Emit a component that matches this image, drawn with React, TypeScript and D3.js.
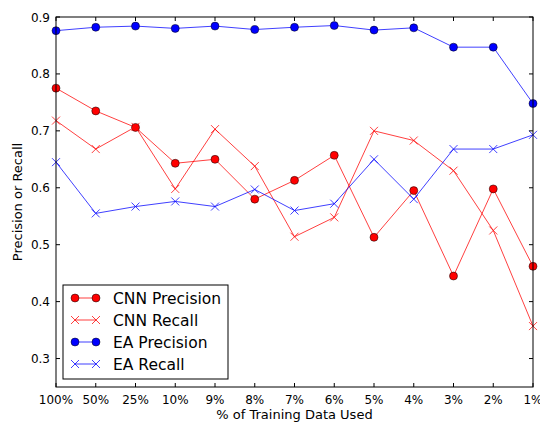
import React, { useEffect, useRef } from "react";
import * as d3 from "d3";

const categories = ["100%", "50%", "25%", "10%", "9%", "8%", "7%", "6%", "5%", "4%", "3%", "2%", "1%"];
const cnnPrecision = [0.775, 0.735, 0.706, 0.643, 0.65, 0.58, 0.613, 0.657, 0.513, 0.595, 0.445, 0.598, 0.462];
const cnnRecall = [0.718, 0.668, 0.707, 0.598, 0.703, 0.638, 0.514, 0.548, 0.7, 0.683, 0.63, 0.525, 0.357];
const eaPrecision = [0.876, 0.882, 0.884, 0.88, 0.884, 0.878, 0.882, 0.885, 0.877, 0.881, 0.847, 0.847, 0.748];
const eaRecall = [0.645, 0.555, 0.567, 0.576, 0.567, 0.597, 0.56, 0.572, 0.65, 0.58, 0.668, 0.668, 0.693];
const yTicks = [0.3, 0.4, 0.5, 0.6, 0.7, 0.8, 0.9];

const series = [
  { name: "CNN Precision", values: cnnPrecision, color: "#ff0000", marker: "circle" },
  { name: "CNN Recall", values: cnnRecall, color: "#ff0000", marker: "x" },
  { name: "EA Precision", values: eaPrecision, color: "#0000ff", marker: "circle" },
  { name: "EA Recall", values: eaRecall, color: "#0000ff", marker: "x" },
];

const App = () => {
  const ref = useRef<SVGSVGElement>(null);

  useEffect(() => {
    const width = 540, height = 423;
    const m = { left: 56, right: 7, top: 17, bottom: 36 };
    const svg = d3.select(ref.current);
    svg.selectAll("*").remove();
    const font = "DejaVu Sans, sans-serif";

    const x = d3.scalePoint().domain(categories).range([m.left, width - m.right]);
    const y = d3.scaleLinear().domain([0.25, 0.9]).range([height - m.bottom, m.top]);

    svg.append("rect").attr("width", width).attr("height", height).attr("fill", "white");

    const line = d3.line<number>()
      .x((_, i) => x(categories[i])!)
      .y(d => y(d));

    const plot = svg.append("g");

    const drawMarker = (g: any, cx: number, cy: number, s: any, r = 4) => {
      if (s.marker === "circle") {
        g.append("circle").attr("cx", cx).attr("cy", cy).attr("r", r)
          .attr("fill", s.color).attr("stroke", "#000").attr("stroke-width", 0.5);
      } else {
        const k = r;
        g.append("path")
          .attr("d", `M${cx - k},${cy - k}L${cx + k},${cy + k}M${cx - k},${cy + k}L${cx + k},${cy - k}`)
          .attr("stroke", s.color).attr("stroke-width", 1).attr("opacity", 0.75);
      }
    };

    series.forEach(s => {
      const g = plot.append("g");
      g.append("path").attr("d", line(s.values)).attr("fill", "none")
        .attr("stroke", s.color).attr("stroke-width", 1).attr("opacity", 0.75);
      s.values.forEach((v, i) => drawMarker(g, x(categories[i])!, y(v), s));
    });

    // Frame and ticks
    const x0 = m.left, x1 = width - m.right, y0 = m.top, y1 = height - m.bottom;
    const axes = svg.append("g");
    axes.append("rect").attr("x", x0).attr("y", y0).attr("width", x1 - x0).attr("height", y1 - y0)
      .attr("fill", "none").attr("stroke", "#000").attr("stroke-width", 1);

    categories.forEach(c => {
      const px = x(c)!;
      axes.append("line").attr("x1", px).attr("x2", px).attr("y1", y1).attr("y2", y1 - 4).attr("stroke", "#000");
      axes.append("line").attr("x1", px).attr("x2", px).attr("y1", y0).attr("y2", y0 + 4).attr("stroke", "#000");
      axes.append("text").attr("x", px).attr("y", y1 + 17).attr("text-anchor", "middle")
        .attr("font-family", font).attr("font-size", 12).attr("fill", "#000").text(c);
    });

    yTicks.forEach(t => {
      const py = y(t);
      axes.append("line").attr("x1", x0).attr("x2", x0 + 4).attr("y1", py).attr("y2", py).attr("stroke", "#000");
      axes.append("line").attr("x1", x1).attr("x2", x1 - 4).attr("y1", py).attr("y2", py).attr("stroke", "#000");
      axes.append("text").attr("x", x0 - 6).attr("y", py + 4.5).attr("text-anchor", "end")
        .attr("font-family", font).attr("font-size", 12).attr("fill", "#000").text(t.toFixed(1));
    });

    axes.append("text").attr("x", (x0 + x1) / 2).attr("y", height - 4).attr("text-anchor", "middle")
      .attr("font-family", font).attr("font-size", 13).attr("fill", "#000").text("% of Training Data Used");
    axes.append("text").attr("transform", `translate(22,${(y0 + y1) / 2}) rotate(-90)`)
      .attr("text-anchor", "middle").attr("font-family", font).attr("font-size", 13).attr("fill", "#000")
      .text("Precision or Recall");

    // Legend
    const lg = svg.append("g");
    lg.append("rect").attr("x", 63).attr("y", 285).attr("width", 165).attr("height", 94)
      .attr("fill", "white").attr("stroke", "#000").attr("stroke-width", 1);
    series.forEach((s, i) => {
      const ly = 298 + i * 22;
      lg.append("line").attr("x1", 75).attr("x2", 96).attr("y1", ly).attr("y2", ly)
        .attr("stroke", s.color).attr("stroke-width", 1).attr("opacity", 0.75);
      drawMarker(lg, 75, ly, s);
      drawMarker(lg, 96, ly, s);
      lg.append("text").attr("x", 113).attr("y", ly + 5.5).attr("font-family", font).attr("font-size", 15.5)
        .attr("fill", "#000").text(s.name);
    });
  }, []);

  return <svg ref={ref} width={540} height={423} style={{ display: "block", position: "absolute", left: 0, top: 0 }} />;
};

export default App;
